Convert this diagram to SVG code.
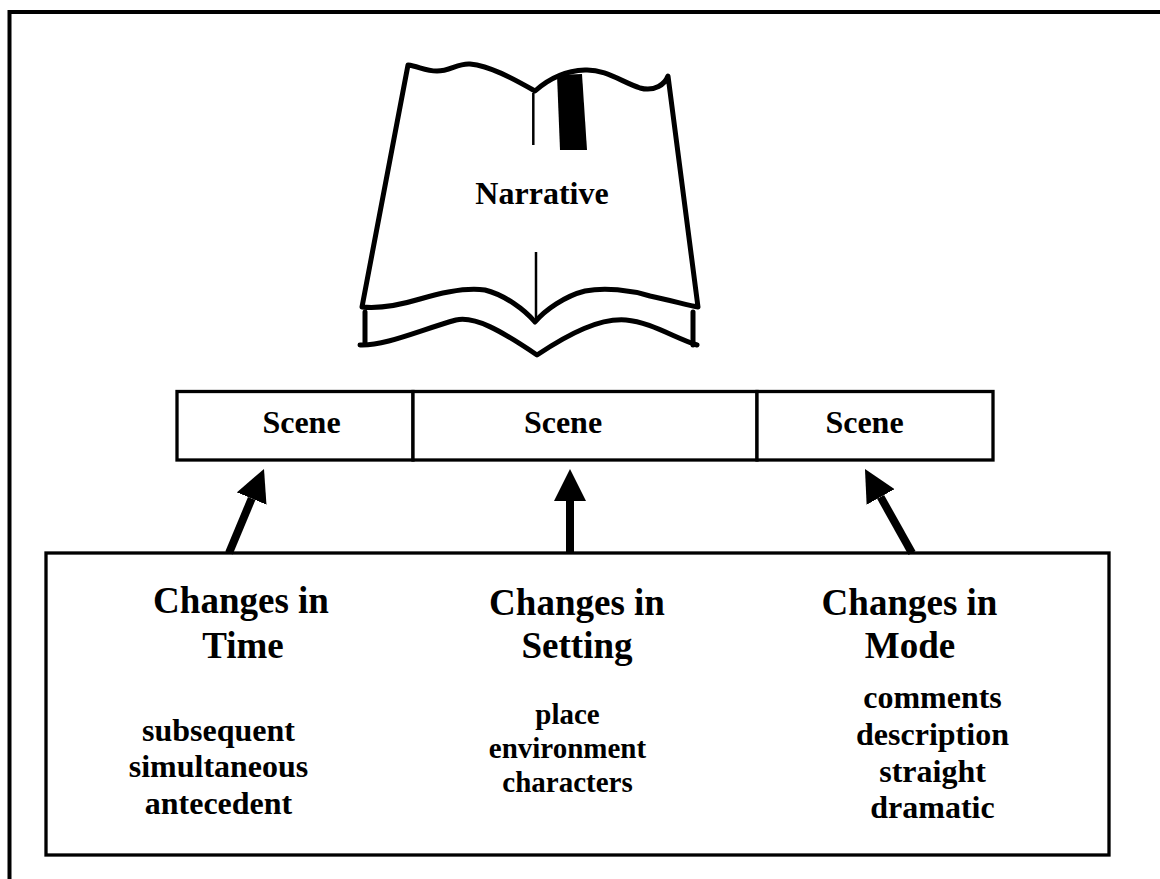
<svg xmlns="http://www.w3.org/2000/svg" width="1160" height="879" viewBox="0 0 1160 879">
  <style>
    .t { font-family: "Liberation Serif", "Times New Roman", serif; font-weight: bold; fill: #000; text-anchor: middle; }
    .h { font-size: 37px; }
    .i { font-size: 32px; }
    .s { font-size: 29px; }
    .box { fill: #fff; stroke: #000; stroke-width: 3.3; }
    .div { stroke: #000; stroke-width: 2.8; }
    .ink { fill: none; stroke: #000; stroke-width: 5; stroke-linejoin: round; stroke-linecap: round; }
    .arrow { stroke: #000; stroke-width: 8; fill: none; marker-end: url(#ah); }
  </style>
  <defs>
    <marker id="ah" markerUnits="userSpaceOnUse" markerWidth="32" markerHeight="32" viewBox="0 0 32 32" refX="0" refY="16" orient="auto">
      <path d="M0,0 L32,16 L0,32 Z" fill="#000"/>
    </marker>
  </defs>

  <rect width="1160" height="879" fill="#fff"/>
  <g id="frame">
    <rect x="9.5" y="12" width="1200" height="900" fill="none" stroke="#000" stroke-width="4"/>
  </g>

  <g id="book">
    <path d="M408,65 C418,66 425,71 437,71 C450,71 458,63 470,64 C490,66 512,78 535,91 C545,82 560,71 585,70 C605,69 622,82 640,88 C655,92 665,84 668,76 L698,307 C690,306 670,300 650,296 C630,290 605,287 585,291 C565,296 545,310 535,322 C525,310 505,295 485,290 C465,287 440,293 420,299 C400,305 380,309 362,307 Z" fill="#fff" class="ink"/>
    <path d="M365,312 L365,344" class="ink"/>
    <path d="M693,312 L693,345" class="ink"/>
    <path d="M360,345 C385,346 420,330 456,320 C475,316 500,330 537,355 C570,333 600,318 626,320 C650,322 675,338 697,345" class="ink"/>
    <path d="M533.3,93 L533.3,145" stroke="#000" stroke-width="2.5"/>
    <path d="M536,252 L536,322" stroke="#000" stroke-width="2.5"/>
    <path d="M557,75 L582,74 L587,150 L560,150 Z" fill="#000"/>
    <text class="t i" x="542" y="204">Narrative</text>
  </g>

  <g id="scene-1">
    <rect x="177" y="391.5" width="236" height="68.5" class="box"/>
    <text class="t i" x="301.5" y="432.5">Scene</text>
  </g>
  <g id="scene-2">
    <rect x="413" y="391.5" width="344" height="68.5" class="box"/>
    <text class="t i" x="563" y="432.5">Scene</text>
  </g>
  <g id="scene-3">
    <rect x="757" y="391.5" width="236" height="68.5" class="box"/>
    <text class="t i" x="864.5" y="432.5">Scene</text>
  </g>

  <g id="changes">
    <rect x="46" y="553" width="1063" height="302" class="box"/>
  </g>

  <g id="connectors">
    <path d="M229,553 L251.7,498.5" class="arrow"/>
    <path d="M570,553 L570,501" class="arrow"/>
    <path d="M912,553 L880.6,496.9" class="arrow"/>
  </g>

  <g id="changes-time">
    <text class="t h" x="241" y="613">Changes in</text>
    <text class="t h" x="243" y="658">Time</text>
    <text class="t i" x="218.5" y="741">subsequent</text>
    <text class="t i" x="218.5" y="777">simultaneous</text>
    <text class="t i" x="218.5" y="814">antecedent</text>
  </g>
  <g id="changes-setting">
    <text class="t h" x="577" y="615">Changes in</text>
    <text class="t h" x="577" y="658">Setting</text>
    <text class="t s" x="567.5" y="724">place</text>
    <text class="t s" x="567.5" y="758">environment</text>
    <text class="t s" x="567.5" y="792">characters</text>
  </g>
  <g id="changes-mode">
    <text class="t h" x="909.5" y="615">Changes in</text>
    <text class="t h" x="910" y="658">Mode</text>
    <text class="t i" x="932.5" y="708">comments</text>
    <text class="t i" x="932.5" y="745">description</text>
    <text class="t i" x="932.5" y="782">straight</text>
    <text class="t i" x="932.5" y="818">dramatic</text>
  </g>
</svg>
